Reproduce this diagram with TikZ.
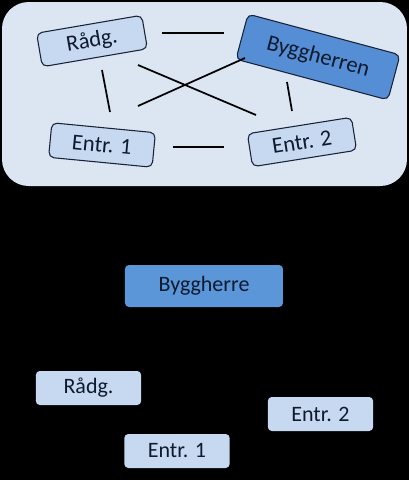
\documentclass[tikz,border=0pt]{standalone}
\usepackage{fontspec}
\setmainfont{Carlito}
\definecolor{panel}{HTML}{DCE6F2}
\definecolor{lightbox}{HTML}{C6D9F1}
\definecolor{darkbox}{HTML}{558ED5}
\definecolor{botdark}{HTML}{5A96D8}
\definecolor{txt}{HTML}{0F1A2E}
\definecolor{edge}{HTML}{1A2236}
\tikzset{
  topbox/.style={draw=edge, line width=0.8pt, rounded corners=4pt, fill=lightbox, text=txt, font=\fontsize{17}{19}\selectfont, inner sep=0pt},
  topdark/.style={topbox, fill=darkbox},
  botbox/.style={rounded corners=3pt, fill=lightbox, text=txt, font=\fontsize{16.5}{19}\selectfont, inner sep=0pt, minimum width=79pt, minimum height=25.5pt},
  botdarkbox/.style={botbox, fill=botdark, minimum width=118.5pt, minimum height=31.5pt},
  link/.style={line width=1.3pt, black}
}
\begin{document}
\begin{tikzpicture}[x=0.75pt,y=-0.75pt]
\fill[black] (0,0) rectangle (409,480);
\useasboundingbox (0,0) rectangle (409,480);
% top panel
\fill[panel, rounded corners=20pt] (2,2) rectangle (407,186);
\node[topbox, rotate=9.7, minimum width=80pt, minimum height=25.5pt] (r1) at (92,41) {Rådg.};
\node[topdark, rotate=-15, minimum width=118pt, minimum height=35pt] (b1) at (318,57) {Byggherren};
\node[topbox, rotate=-5.5, minimum width=78pt, minimum height=26pt] (e11) at (102,145) {Entr. 1};
\node[topbox, rotate=9, minimum width=79pt, minimum height=25pt] (e21) at (302,142) {Entr. 2};
% connector end points
\coordinate (a1) at (162,33); \coordinate (a2) at (224,33);
\coordinate (c1) at (102,70); \coordinate (c2) at (110,112);
\coordinate (d1) at (138,65); \coordinate (d2) at (256,115);
\coordinate (f1) at (138,106); \coordinate (f2) at (245,58);
\coordinate (g1) at (287,82); \coordinate (g2) at (292,111);
\coordinate (h1) at (173,147); \coordinate (h2) at (224,147);
\draw[link] (a1) -- (a2);
\draw[link] (c1) -- (c2);
\draw[link] (d1) -- (d2);
\draw[link] (f1) -- (f2);
\draw[link] (g1) -- (g2);
\draw[link] (h1) -- (h2);
% bottom
\node[botdarkbox] (b2) at (204,286) {Byggherre};
\node[botbox] (r2) at (88.5,388) {Rådg.};
\node[botbox] (e22) at (320.5,414) {Entr. 2};
\node[botbox] (e12) at (177,451) {Entr. 1};
\end{tikzpicture}
\end{document}
